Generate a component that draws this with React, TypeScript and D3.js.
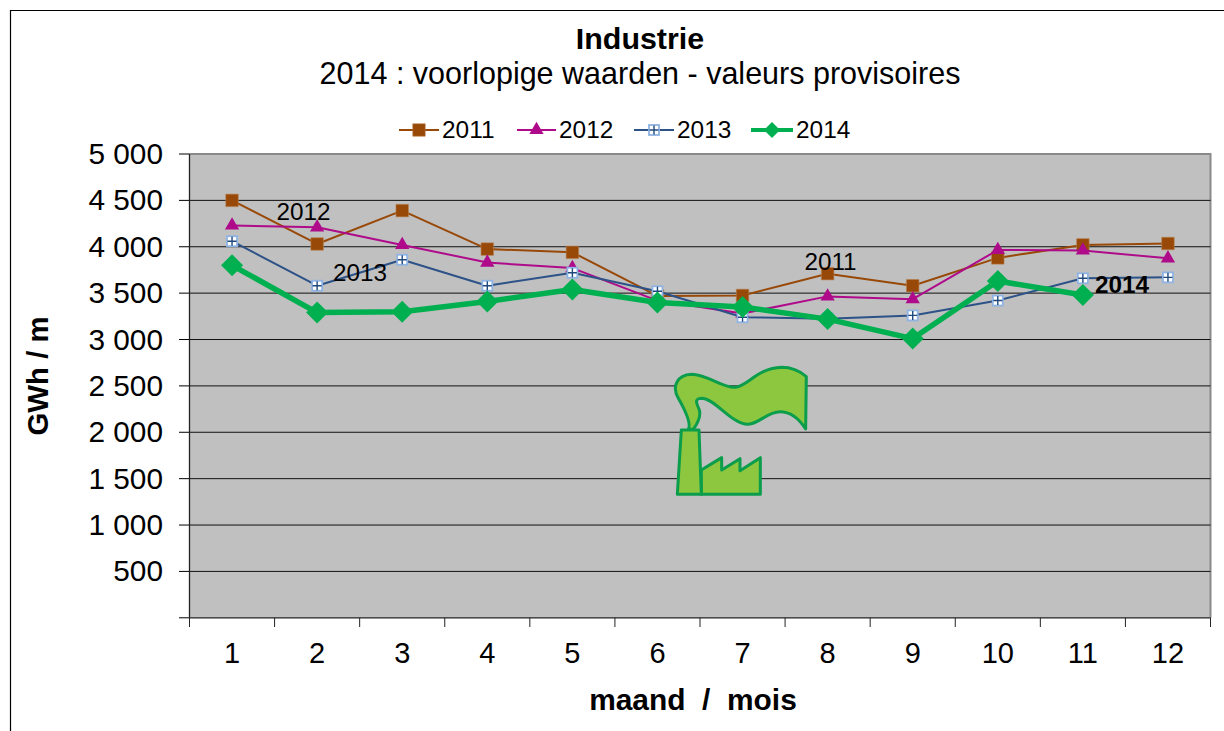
import React from "react";
import * as d3 from "d3";

const months = ["1", "2", "3", "4", "5", "6", "7", "8", "9", "10", "11", "12"];
const yTicks = [0, 500, 1000, 1500, 2000, 2500, 3000, 3500, 4000, 4500, 5000];

const values2011 = [4500, 4030, 4390, 3975, 3940, 3470, 3475, 3710, 3580, 3880, 4020, 4035];
const values2012 = [4230, 4210, 4020, 3830, 3770, 3420, 3280, 3465, 3435, 3965, 3960, 3875];
const values2013 = [4060, 3580, 3860, 3580, 3720, 3520, 3240, 3225, 3260, 3420, 3660, 3670];
const values2014 = [3800, 3290, 3300, 3410, 3540, 3400, 3350, 3220, 3010, 3630, 3480];

const FONT = "'Liberation Sans', Arial, sans-serif";
const W = 1224;
const H = 731;
const plot = { left: 189.5, right: 1210.5, top: 154, bottom: 617.8 };

const x = d3.scalePoint<string>().domain(months).range([plot.left, plot.right]).padding(0.5);
const y = d3.scaleLinear().domain([0, 5000]).range([plot.bottom, plot.top]);
const step = x.step();

const thousands = (v: number) => (v === 0 ? "" : d3.format(",")(v).replace(",", " "));

const lineGen = d3
  .line<number>()
  .x((_, i) => x(months[i]) as number)
  .y((d) => y(d));

const square = d3.symbol(d3.symbolSquare, 156)();
const triangle = d3.symbol(d3.symbolTriangle, 88)();

function Marker({ name, cx, cy, big }: { name: string; cx: number; cy: number; big?: boolean }) {
  const t = `translate(${cx},${cy})`;
  if (name === "2011") {
    return <path d={square as string} transform={t} fill="#984807" stroke="#b9814f" strokeWidth={0.6} />;
  }
  if (name === "2012") {
    return <path d={triangle as string} transform={t} fill="#ae0a8a" />;
  }
  if (name === "2013") {
    return (
      <g transform={t}>
        <rect x={-5} y={-5} width={10} height={10} fill="#fff" stroke="#8fb4e3" strokeWidth={1.8} />
        <path d="M-4.5,0H4.5M0,-4.5V4.5" stroke="#1f497d" strokeWidth={1.4} />
      </g>
    );
  }
  const r = big ? 11 : 8;
  return <path d={`M0,${-r}L${r},0L0,${r}L${-r},0Z`} transform={t} fill="#00b050" />;
}

const seriesList = [
  { name: "2011", values: values2011, color: "#984807", width: 2, legendX: 399, legendW: 40 },
  { name: "2012", values: values2012, color: "#ae0a8a", width: 2, legendX: 517, legendW: 39 },
  { name: "2013", values: values2013, color: "#2c5288", width: 2, legendX: 634, legendW: 40 },
  { name: "2014", values: values2014, color: "#00b050", width: 5.5, legendX: 751, legendW: 42 },
];

const annotations = [
  { text: "2012", cx: 303.5, by: 220, bold: false },
  { text: "2013", cx: 360, by: 281, bold: false },
  { text: "2011", cx: 830.5, by: 270, bold: false },
  { text: "2014", cx: 1122, by: 293, bold: true },
];

export default function App() {
  return (
    <svg
      width={W}
      height={H}
      viewBox={`0 0 ${W} ${H}`}
      style={{ position: "absolute", left: 0, top: 0, background: "#fff" }}
      fontFamily={FONT}
    >
      {/* cadre */}
      <path d={`M10.5,${H}V10.5H${W}`} fill="none" stroke="#000" strokeWidth={1.2} />

      <text x={640} y={49} textAnchor="middle" fontSize={30.4} fontWeight="bold">Industrie</text>
      <text x={640} y={84} textAnchor="middle" fontSize={30.5}>2014 : voorlopige waarden - valeurs provisoires</text>

      {/* fond du graphe */}
      <rect x={plot.left} y={plot.top} width={plot.right - plot.left} height={plot.bottom - plot.top} fill="#c0c0c0" />
      <path
        d={`M${plot.left},${plot.top}H${plot.right}V${plot.bottom}`}
        fill="none"
        stroke="#8a8a8a"
        strokeWidth={2}
      />

      {/* axe y */}
      {yTicks.map((t) => (
        <g key={t}>
          <line x1={179} x2={plot.left} y1={y(t)} y2={y(t)} stroke="#000" strokeWidth={1} />
          {t > 0 && t < 5000 && (
            <line x1={plot.left} x2={plot.right} y1={y(t)} y2={y(t)} stroke="#111" strokeWidth={1} />
          )}
          <text x={163} y={y(t) + 10} textAnchor="end" fontSize={29.8}>{thousands(t)}</text>
        </g>
      ))}
      <line x1={plot.left} x2={plot.left} y1={plot.top} y2={plot.bottom} stroke="#222" strokeWidth={1.3} />

      {/* axe x */}
      <line x1={plot.left} x2={plot.right} y1={plot.bottom} y2={plot.bottom} stroke="#222" strokeWidth={1.3} />
      {d3.range(months.length + 1).map((i) => (
        <line
          key={i}
          x1={plot.left + i * step}
          x2={plot.left + i * step}
          y1={plot.bottom}
          y2={627}
          stroke="#222"
          strokeWidth={1}
        />
      ))}
      {months.map((m) => (
        <text key={m} x={x(m)} y={663} textAnchor="middle" fontSize={29}>{m}</text>
      ))}

      <text x={693} y={710} textAnchor="middle" fontSize={29.9} fontWeight="bold" xmlSpace="preserve">maand  /  mois</text>
      <text
        transform="translate(48,376) rotate(-90)"
        textAnchor="middle"
        fontSize={29.4}
        fontWeight="bold"
      >
        GWh / m
      </text>

      {/* usine */}
      <g transform="translate(660,360) scale(0.3333)" fill="#8dc63f" stroke="#0a9d4b" strokeWidth={9} strokeLinejoin="round">
        <path d="M85,208C95,190 75,150 55,115C35,80 50,45 95,43C140,43 190,85 225,82C265,78 290,25 365,22C400,22 425,38 439,50L437,207C420,180 395,155 360,155C320,155 295,195 260,193C215,190 165,118 128,115C100,115 110,130 118,150C125,175 105,200 100,208Z" />
        <path d="M124,330L185,293L185,330L240,296L240,332L301,293L301,403L124,403Z" />
        <path d="M64,210L117,210L124,403L52,403Z" />
      </g>

      {/* courbes */}
      {seriesList.map((s) => (
        <g key={s.name}>
          <path d={lineGen(s.values) as string} fill="none" stroke={s.color} strokeWidth={s.width} strokeLinejoin="round" />
          {s.values.map((v, i) => (
            <Marker key={i} name={s.name} cx={x(months[i]) as number} cy={y(v)} big />
          ))}
        </g>
      ))}

      {annotations.map((a) => (
        <text key={a.text} x={a.cx} y={a.by} textAnchor="middle" fontSize={24.3} fontWeight={a.bold ? "bold" : "normal"} fill="#000">
          {a.text}
        </text>
      ))}

      {/* légende */}
      {seriesList.map((s) => (
        <g key={s.name}>
          <line x1={s.legendX} x2={s.legendX + s.legendW} y1={130} y2={130} stroke={s.color} strokeWidth={s.width > 5 ? 4 : 2} />
          <Marker name={s.name} cx={s.legendX + s.legendW / 2} cy={130} />
          <text x={s.legendX + s.legendW + 3} y={138} fontSize={24.4}>{s.name}</text>
        </g>
      ))}
    </svg>
  );
}
